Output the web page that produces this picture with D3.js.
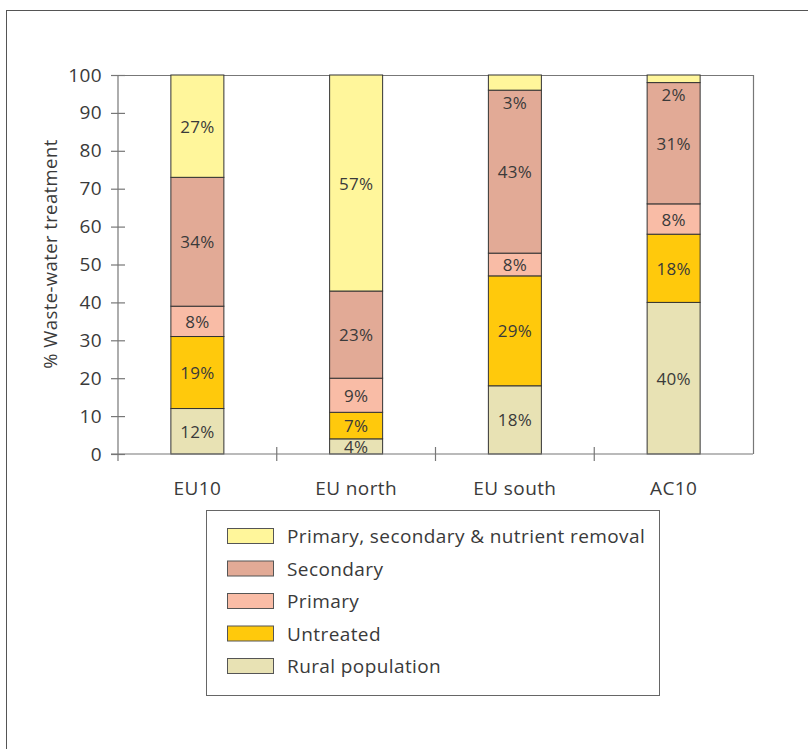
<!DOCTYPE html>
<html>
<head>
<meta charset="utf-8">
<script src="https://cdn.jsdelivr.net/npm/d3@7"></script>
<style>
  body { margin: 0; background: #fff; }
  svg text { font-family: "Open Sans", sans-serif; fill: #3a3a3a; letter-spacing: 0.4px; }
</style>
</head>
<body>
<svg id="chart" width="808" height="749"></svg>
<script>
// categories and series (bottom to top)
const regions = ['EU10', 'EU north', 'EU south', 'AC10']
const seriesNames = ['Rural population', 'Untreated', 'Primary', 'Secondary', 'Primary, secondary & nutrient removal']
// segment heights as drawn (% of population)
const rural     = [12, 4, 18, 40]
const untreated = [19, 7, 29, 18]
const primary   = [8, 9, 6, 8]
const secondary = [34, 23, 43, 32]
const nutrient  = [27, 57, 4, 2]
// labels printed on the segments
const ruralLbl     = ['12%', '4%', '18%', '40%']
const untreatedLbl = ['19%', '7%', '29%', '18%']
const primaryLbl   = ['8%', '9%', '8%', '8%']
const secondaryLbl = ['34%', '23%', '43%', '31%']
const nutrientLbl  = ['27%', '57%', '3%', '2%']
const yTicks = [0, 10, 20, 30, 40, 50, 60, 70, 80, 90, 100]
const colors = ['#e8e2b4', '#ffc90c', '#f9bca6', '#e2aa96', '#fff69b']

const series = [rural, untreated, primary, secondary, nutrient]
const labels = [ruralLbl, untreatedLbl, primaryLbl, secondaryLbl, nutrientLbl]
const keys = series.map((s, i) => 'k' + i)
const table = regions.map((r, j) => {
  const row = { region: r }
  series.forEach((s, i) => { row[keys[i]] = s[j] })
  return row
})

const svg = d3.select('#chart')

// outer frame
svg.append('rect')
  .attr('x', 6.5).attr('y', 10.5)
  .attr('width', 820).attr('height', 760)
  .attr('fill', 'none').attr('stroke', '#555').attr('stroke-width', 1)

const x = d3.scaleBand().domain(regions).range([118, 753])
const y = d3.scaleLinear().domain([0, 100]).range([454, 75])
const barW = 53

// plot box top and right
svg.append('path')
  .attr('d', `M${x.range()[0]},${y(100) + 0.5}H${x.range()[1] + 0.5}V${y(0)}`)
  .attr('fill', 'none').attr('stroke', '#777').attr('stroke-width', 1.2)

const stack = d3.stack().keys(keys)(table)

const g = svg.append('g')
stack.forEach((layer, i) => {
  g.selectAll(null)
    .data(layer)
    .enter()
    .append('rect')
    .attr('x', d => x(d.data.region) + x.bandwidth() / 2 - barW / 2)
    .attr('y', d => y(d[1]))
    .attr('width', barW)
    .attr('height', d => y(d[0]) - y(d[1]))
    .attr('fill', colors[i])
    .attr('stroke', '#333')
    .attr('stroke-width', 1)
})

// segment labels
stack.forEach((layer, i) => {
  g.selectAll(null)
    .data(layer)
    .enter()
    .append('text')
    .attr('x', d => x(d.data.region) + x.bandwidth() / 2)
    .attr('y', d => {
      const h = y(d[0]) - y(d[1])
      if (i === stack.length - 1 && h < 20) return y(d[0]) + 12
      return (y(d[0]) + y(d[1])) / 2
    })
    .attr('text-anchor', 'middle')
    .attr('dominant-baseline', 'central')
    .attr('font-size', 17)
    .style('letter-spacing', '0.3px')
    .text((d, j) => labels[i][j])
})

// y axis
const yAxis = svg.append('g')
  .attr('transform', `translate(118,0)`)
  .call(d3.axisLeft(y).tickValues(yTicks).tickSize(7).tickPadding(9))
yAxis.select('.domain').attr('stroke', '#777').attr('stroke-width', 1.2)
  .attr('d', `M0,${y(0) + 7}V${y(100)}`)
yAxis.selectAll('.tick line').attr('stroke', '#777').attr('stroke-width', 1.2)
  .attr('x1', 7).attr('x2', -7)
yAxis.selectAll('.tick text').attr('font-size', 19).attr('fill', '#3a3a3a')
  .attr('font-family', '"Open Sans", sans-serif')

// x axis with ticks at the category boundaries
svg.append('line')
  .attr('x1', 111).attr('x2', 753)
  .attr('y1', y(0)).attr('y2', y(0))
  .attr('stroke', '#777').attr('stroke-width', 1.2)
const bounds = regions.map(r => x(r)).concat([x.range()[1]])
svg.selectAll(null)
  .data(bounds.slice(1, 4))
  .enter()
  .append('line')
  .attr('x1', d => d).attr('x2', d => d)
  .attr('y1', y(0) - 7).attr('y2', y(0) + 7)
  .attr('stroke', '#777').attr('stroke-width', 1.2)
svg.selectAll(null)
  .data(regions)
  .enter()
  .append('text')
  .attr('x', d => x(d) + x.bandwidth() / 2)
  .attr('y', 488)
  .attr('text-anchor', 'middle')
  .attr('dominant-baseline', 'central')
  .attr('font-size', 19)
  .text(d => d)

// y axis title
svg.append('text')
  .attr('transform', 'translate(49,254) rotate(-90)')
  .attr('text-anchor', 'middle')
  .attr('dominant-baseline', 'central')
  .attr('font-size', 18.5)
  .text('% Waste-water treatment')

// legend (top row = top of stack)
svg.append('rect')
  .attr('x', 206.5).attr('y', 510.5)
  .attr('width', 453).attr('height', 185)
  .attr('fill', '#fff').attr('stroke', '#666').attr('stroke-width', 1)
const legendOrder = d3.range(seriesNames.length).reverse()
const lg = svg.selectAll('.leg')
  .data(legendOrder)
  .enter()
  .append('g')
  .attr('transform', (d, k) => `translate(227,${536 + k * 32.5})`)
lg.append('rect')
  .attr('x', 0.5).attr('y', -7.5)
  .attr('width', 46).attr('height', 15)
  .attr('fill', d => colors[d]).attr('stroke', '#555').attr('stroke-width', 1)
lg.append('text')
  .attr('x', 60).attr('y', 0)
  .attr('dominant-baseline', 'central')
  .attr('font-size', 19)
  .text(d => seriesNames[d])
</script>
</body>
</html>
